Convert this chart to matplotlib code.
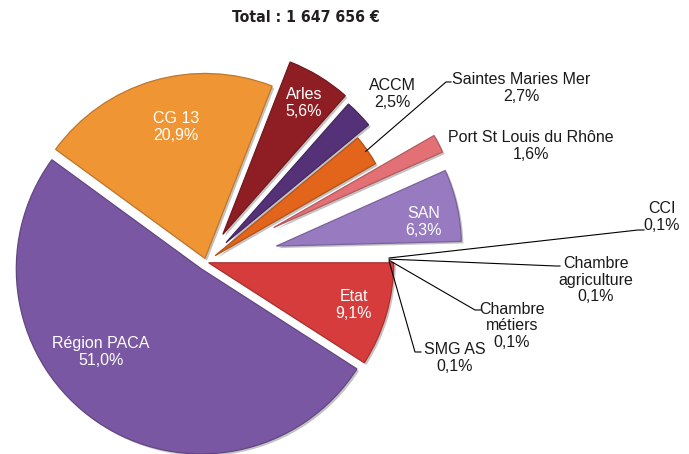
import matplotlib
matplotlib.use('Agg')
import matplotlib.pyplot as plt
import matplotlib.patheffects as pe
import matplotlib.colors as mcolors
import numpy as np

# ---- data ----
categories = ['Etat', 'Région PACA', 'CG 13', 'Arles', 'ACCM', 'Saintes Maries Mer',
              'Port St Louis du Rhône', 'SAN', 'CCI', 'Chambre\nagriculture',
              'Chambre\nmétiers', 'SMG AS']
values = [9.1, 51.0, 20.9, 5.6, 2.5, 2.7, 1.6, 6.3, 0.1, 0.1, 0.1, 0.1]
title = 'Total : 1 647 656 €'

# ---- style ----
colors = ['#D63C3C', '#7A57A3', '#EF9534', '#8E1E23', '#553177', '#E2651B',
          '#E27075', '#987AC0', '#D8D8D8', '#D8D8D8', '#D8D8D8', '#D8D8D8']
explode = [0.015, 0.045, 0.02, 0.175, 0.15, 0.06, 0.41, 0.39, 0, 0, 0, 0]
inside = [True, True, True, True, False, False, False, True, False, False, False, False]

W, H = 689, 454
CX, CY, R = 206, 262, 185

fig = plt.figure(figsize=(W / 100, H / 100), dpi=100)
ax = fig.add_axes([0, 0, 1, 1])

wedges, _ = ax.pie(values, explode=explode, colors=colors, startangle=0,
                   counterclock=False, radius=1, frame=False)
ax.set_xlim(-CX / R, (W - CX) / R)
ax.set_ylim(-(H - CY) / R, CY / R)
ax.set_aspect('auto')
ax.axis('off')

for w, c, v in zip(wedges, colors, values):
    if v < 0.5:
        w.set_linewidth(0)
        w.set_alpha(0.0)
        continue
    rgb = np.array(mcolors.to_rgb(c))
    w.set_edgecolor(tuple(rgb * 0.8))
    w.set_linewidth(0.9)
    w.set_path_effects([pe.SimplePatchShadow(offset=(1.5, -1.5), shadow_rgbFace='#555555', alpha=0.35),
                        pe.Normal()])


def fig_xy(x, y):
    return (x / W, 1 - y / H)


def pct(v):
    return f"{v:.1f}%".replace('.', ',')


FONT = ['Liberation Sans', 'DejaVu Sans']

# label positions in pixels (layout)
label_pos = {
    'Etat': (354, 305), 'Région PACA': (101, 352), 'CG 13': (176, 127),
    'Arles': (304, 103), 'ACCM': (392, 94), 'Saintes Maries Mer': (521, 88),
    'Port St Louis du Rhône': (531, 146), 'SAN': (424, 222), 'CCI': (662, 217),
    'Chambre\nagriculture': (596, 280), 'Chambre\nmétiers': (512, 326), 'SMG AS': (455, 358),
}

for cat, v, ins in zip(categories, values, inside):
    x, y = label_pos[cat]
    fig.text(*fig_xy(x, y), f"{cat}\n{pct(v)}", ha='center', va='center',
             color='white' if ins else '#1a1a1a', fontsize=11.5, family=FONT,
             linespacing=1.12, transform=fig.transFigure)

# leader lines (anchor computed from the wedge geometry)
def anchor(w, frac=0.99):
    cx, cy = w.center
    ang = np.deg2rad((w.theta1 + w.theta2) / 2)
    return cx + frac * w.r * np.cos(ang), cy + frac * w.r * np.sin(ang)


def px_to_data(x, y):
    return (x - CX) / R, (CY - y) / R


leaders = {
    'Saintes Maries Mer': [(446, 82), (451, 82)],
    'CCI': [(638, 230), (644, 230)],
    'Chambre\nagriculture': [(556, 266), (560, 266)],
    'Chambre\nmétiers': [(475, 310), (481, 310)],
    'SMG AS': [(415, 352), (421, 352)],
}
for cat, pts in leaders.items():
    w = wedges[categories.index(cat)]
    ax0, ay0 = anchor(w)
    xs = [ax0] + [px_to_data(*p)[0] for p in pts]
    ys = [ay0] + [px_to_data(*p)[1] for p in pts]
    ax.plot(xs, ys, color='black', lw=0.8, solid_joinstyle='miter')

fig.text(*fig_xy(306, 17), title, ha='center', va='center', fontsize=11.3,
         fontweight='bold', family='DejaVu Sans', fontstretch='condensed',
         color='#231f20', transform=fig.transFigure)

fig.savefig('out.png', dpi=100, facecolor='white')
